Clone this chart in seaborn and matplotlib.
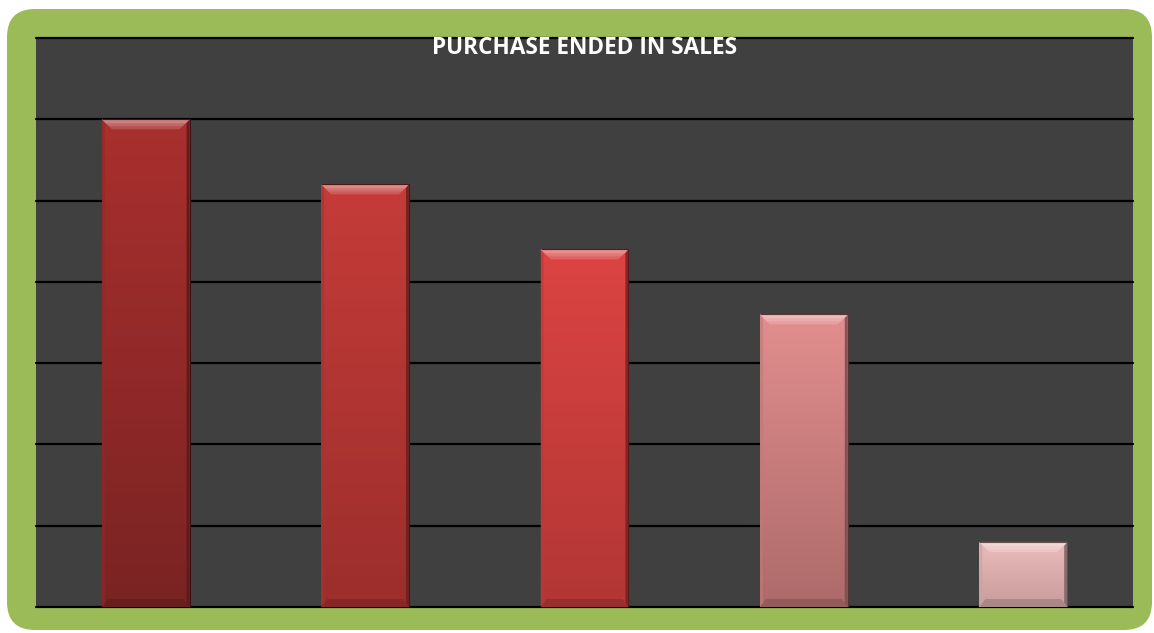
import numpy as np
import pandas as pd
import matplotlib
matplotlib.use("Agg")
import matplotlib.pyplot as plt
from matplotlib.patches import FancyBboxPatch, Polygon
from matplotlib.colors import to_rgb
import seaborn as sns

# Chart data
stages = ["Stage 1", "Stage 2", "Stage 3", "Stage 4", "Stage 5"]
purchases = [6.0, 5.2, 4.4, 3.6, 0.8]
top_colors = ["#a9302e", "#c53c39", "#dc4442", "#e28e8e", "#ebbcbc"]
bottom_colors = ["#7a2323", "#9c2e2c", "#b23635", "#ad6a6a", "#c89c9c"]
title_text = "PURCHASE ENDED IN SALES"

df = pd.DataFrame({"stage": stages, "value": purchases})

sns.set_theme(style="white")
plt.rcParams["font.family"] = ["Open Sans", "DejaVu Sans"]

W, H = 1154, 633
fig = plt.figure(figsize=(W / 100, H / 100), dpi=100)
fig.patch.set_facecolor("white")

# Green rounded frame on a pixel-space background axes
bg = fig.add_axes([0, 0, 1, 1], zorder=-1)
bg.set_xlim(0, W)
bg.set_ylim(H, 0)
bg.axis("off")
bg.add_patch(FancyBboxPatch((7, 9), 1145, 621,
                            boxstyle="round,pad=0,rounding_size=28",
                            facecolor="#9bbb59", edgecolor="none"))

ax = fig.add_axes([36 / W, 1 - 607 / H, 1097 / W, 569 / H], zorder=1)
ax.set_facecolor("#404040")

sns.barplot(data=df, x="stage", y="value", ax=ax, width=0.4,
            color="#a9302e", saturation=1, edgecolor="none", zorder=2)

ax.set_ylim(0, 7)
ax.set_xlim(-0.5, len(stages) - 0.5)
for yv in range(0, 8):
    ax.axhline(yv, color="black", lw=1.6, zorder=1, clip_on=False)
for s in ax.spines.values():
    s.set_visible(False)
ax.set_xticks([])
ax.set_yticks([])
ax.set_xlabel("")
ax.set_ylabel("")

fig.canvas.draw()
inv = ax.transData.inverted()


def lighten(c, f):
    r = np.array(to_rgb(c))
    return tuple(r + (1 - r) * f)


def darken(c, f):
    r = np.array(to_rgb(c))
    return tuple(r * (1 - f))


for patch, tc, bc in zip(ax.patches, top_colors, bottom_colors):
    x0, y0 = patch.get_x(), patch.get_y()
    w, h = patch.get_width(), patch.get_height()
    x1, y1 = x0 + w, y0 + h
    patch.set_facecolor("none")

    # vertical gradient body
    t = np.linspace(0, 1, 256)[:, None]
    c_top = np.array(to_rgb(tc))
    c_bot = np.array(to_rgb(bc))
    img = c_bot[None, None, :] * (1 - t[..., None]) + c_top[None, None, :] * t[..., None]
    im = ax.imshow(img, extent=(x0, x1, y0, y1), origin="lower",
                   aspect="auto", zorder=3, interpolation="bilinear")
    im.set_clip_path(patch)

    # bevel sizes in data units derived from pixels
    (px0, py0) = ax.transData.transform((x0, y0))
    dx = inv.transform((px0 + 10, py0))[0] - x0
    dy = inv.transform((px0, py0 + 10))[1] - y0
    sx = inv.transform((px0 + 3, py0))[0] - x0
    sy = inv.transform((px0, py0 + 4))[1] - y0

    # top bevel: layered bands fading from light to body colour
    for k, (frac, lf, al) in enumerate([(1.0, 0.18, 0.9), (0.7, 0.3, 0.8), (0.4, 0.42, 0.8)]):
        ax.add_patch(Polygon([(x0, y1), (x1, y1), (x1 - dx * frac, y1 - dy * frac),
                              (x0 + dx * frac, y1 - dy * frac)],
                             closed=True, facecolor=lighten(tc, lf), edgecolor="none",
                             alpha=al, zorder=4 + k * 0.01))
    # side shading
    ax.add_patch(Polygon([(x0, y1), (x0 + sx, y1 - sy), (x0 + sx, y0 + sy), (x0, y0)],
                         closed=True, facecolor=darken(tc, 0.15), edgecolor="none",
                         alpha=0.6, zorder=4))
    ax.add_patch(Polygon([(x1, y1), (x1 - sx, y1 - sy), (x1 - sx, y0 + sy), (x1, y0)],
                         closed=True, facecolor=darken(tc, 0.45), edgecolor="none",
                         alpha=0.9, zorder=4))
    # bottom shade
    ax.add_patch(Polygon([(x0, y0), (x1, y0), (x1 - sx * 2, y0 + sy * 2), (x0 + sx * 2, y0 + sy * 2)],
                         closed=True, facecolor=darken(bc, 0.2), edgecolor="none",
                         alpha=0.7, zorder=4))
    ax.plot([x0, x1, x1], [y1, y1, y0], color=darken(bc, 0.5), lw=0.8, zorder=5,
            solid_capstyle="butt")

ax.text(0.5, 0.982, title_text, transform=ax.transAxes, ha="center", va="center",
        color="white", fontsize=16.3, fontweight="bold", zorder=6)

fig.savefig("out.png", dpi=100, facecolor=fig.get_facecolor())
